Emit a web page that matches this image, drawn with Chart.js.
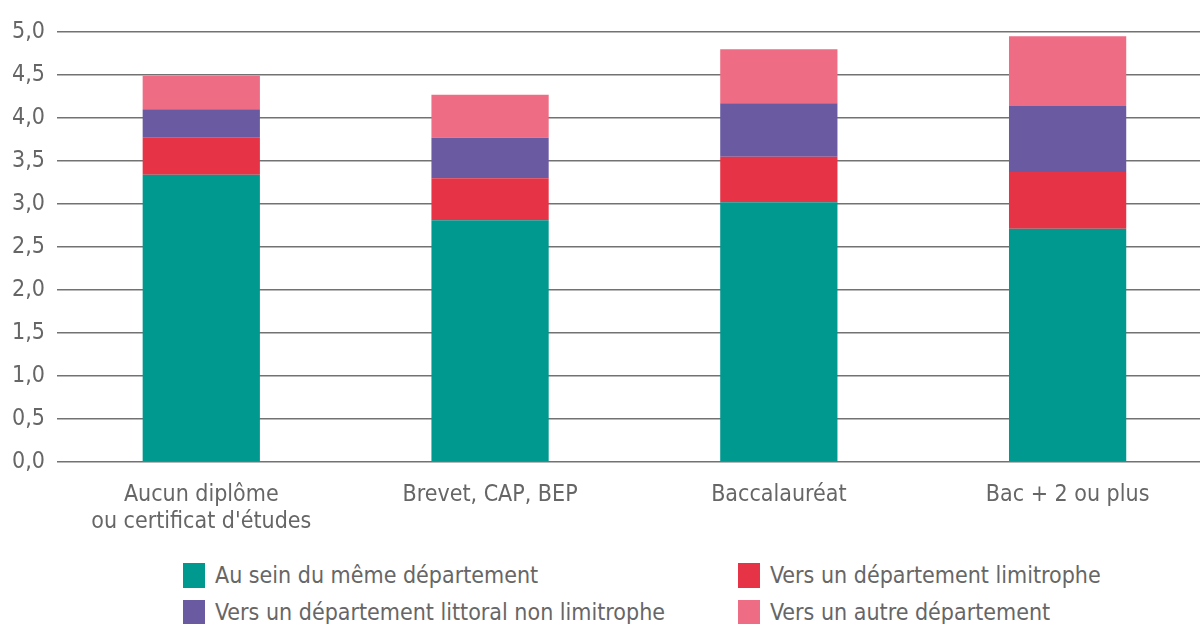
<!DOCTYPE html>
<html>
<head>
<meta charset="utf-8">
<script src="https://cdn.jsdelivr.net/npm/chart.js@4/dist/chart.umd.min.js"></script>
<style>
  html, body { margin: 0; padding: 0; background: #fff; overflow: hidden; width: 1200px; height: 624px; }
  #wrap { position: absolute; left: 0; top: 6px; width: 1212px; height: 541px; }
  .leg { position: absolute; font-family: "Liberation Sans Narrow", "DejaVu Sans Condensed", "Roboto", sans-serif; font-size: 23px; color: #666; white-space: nowrap; line-height: 25px; }
  .leg span { position: absolute; left: 0; top: 0; width: 22px; height: 25px; }
  .leg b { font-weight: normal; position: absolute; left: 32px; top: 0; }
</style>
</head>
<body>
<div id="wrap"><canvas id="myschart"></canvas></div>
<div class="leg" style="left:183px;top:563px"><span style="background:#009990"></span><b>Au sein du même département</b></div>
<div class="leg" style="left:738px;top:563px"><span style="background:#e63346"></span><b>Vers un département limitrophe</b></div>
<div class="leg" style="left:183px;top:600px"><span style="background:#6a5aa2"></span><b>Vers un département littoral non limitrophe</b></div>
<div class="leg" style="left:738px;top:600px"><span style="background:#ee6c84"></span><b>Vers un autre département</b></div>
<script>
const categories = [['Aucun diplôme', "ou certificat d'études"], 'Brevet, CAP, BEP', 'Baccalauréat', 'Bac + 2 ou plus'];
const memeDep = [3.34, 2.81, 3.02, 2.71];
const limitrophe = [0.43, 0.49, 0.53, 0.66];
const littoral = [0.33, 0.47, 0.62, 0.77];
const autre = [0.39, 0.50, 0.63, 0.81];
const yTicks = [0, 0.5, 1, 1.5, 2, 2.5, 3, 3.5, 4, 4.5, 5];

const font = "'Liberation Sans Narrow', 'DejaVu Sans Condensed', Roboto, sans-serif";

const ctxs = document.getElementById('myschart').getContext('2d');
new Chart(ctxs, {
    type: 'bar',
    data: {
        labels: categories,
        datasets: [
            { label: 'Au sein du même département', data: memeDep, backgroundColor: '#009990' },
            { label: 'Vers un département limitrophe', data: limitrophe, backgroundColor: '#e63346' },
            { label: 'Vers un département littoral non limitrophe', data: littoral, backgroundColor: '#6a5aa2' },
            { label: 'Vers un autre département', data: autre, backgroundColor: '#ee6c84' }
        ]
    },
    options: {
        responsive: true,
        maintainAspectRatio: false,
        animation: false,
        layout: { padding: { top: 26, left: 0, right: 0, bottom: 0 } },
        datasets: { bar: { categoryPercentage: 1, barPercentage: 0.406 } },
        plugins: {
            legend: { display: false },
            tooltip: { enabled: false }
        },
        scales: {
            x: {
                stacked: true,
                grid: { display: false },
                border: { display: false },
                ticks: { color: '#666', font: { family: font, size: 23 }, padding: 11, maxRotation: 0 }
            },
            y: {
                stacked: true,
                min: 0,
                max: 5,
                afterBuildTicks: axis => { axis.ticks = yTicks.map(v => ({ value: v })); },
                grid: { color: '#727272', lineWidth: 1.5, drawTicks: false },
                border: { display: false },
                ticks: {
                    color: '#666',
                    font: { family: font, size: 23 },
                    padding: 12,
                    callback: v => v.toFixed(1).replace('.', ',')
                }
            }
        }
    }
});
</script>
</body>
</html>
